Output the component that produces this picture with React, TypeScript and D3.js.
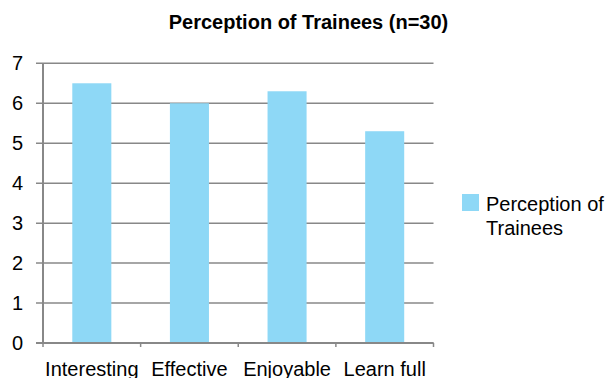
import React from 'react';
import * as d3 from 'd3';

const categories = ['Interesting', 'Effective', 'Enjoyable', 'Learn full'];
const values = [6.5, 6.0, 6.3, 5.3];
const yTicks = [0, 1, 2, 3, 4, 5, 6, 7];
const seriesName = ['Perception of', 'Trainees'];

const W = 611;
const H = 378;
const margin = { left: 43, right: 177.5, top: 63.3, bottom: 35 };
const font = 'Liberation Sans, Arial, sans-serif';
const barColor = '#8ed8f6';
const axisColor = '#888888';

export default function App() {
  const x = d3.scaleBand<string>()
    .domain(categories)
    .range([margin.left, W - margin.right])
    .paddingInner(0.6)
    .paddingOuter(0.3);

  const y = d3.scaleLinear()
    .domain([0, 7])
    .range([H - margin.bottom, margin.top]);

  const step = x.step();
  const edges = d3.range(categories.length + 1).map(i => margin.left + i * step);

  return (
    <svg width={W} height={H} style={{ position: 'absolute', left: 0, top: 0 }}>
      <rect width={W} height={H} fill="#fff" />
      <text x={308.5} y={29} textAnchor="middle" fontFamily={font} fontWeight="bold" fontSize={20}>
        Perception of Trainees (n=30)
      </text>
      {yTicks.map(t => (
        <g key={t}>
          <line x1={margin.left - 7} x2={W - margin.right} y1={y(t)} y2={y(t)} stroke={axisColor} strokeWidth={1.5} />
          <text x={23} y={y(t) + 7} textAnchor="end" fontFamily={font} fontSize={20}>{t}</text>
        </g>
      ))}
      <line x1={margin.left} x2={margin.left} y1={y(7)} y2={y(0)} stroke={axisColor} strokeWidth={2} />
      {edges.map((e, i) => (
        <line key={i} x1={e} x2={e} y1={y(0)} y2={y(0) + 4} stroke={axisColor} strokeWidth={1.5} />
      ))}
      {categories.map((c, i) => (
        <rect key={c} x={x(c)} width={x.bandwidth()} y={y(values[i])} height={y(0) - y(values[i])} fill={barColor} />
      ))}
      <line x1={margin.left - 7} x2={W - margin.right} y1={y(0)} y2={y(0)} stroke={axisColor} strokeWidth={2} />
      {categories.map(c => (
        <text key={c} x={(x(c) as number) + x.bandwidth() / 2} y={376} textAnchor="middle" fontFamily={font} fontSize={20}>{c}</text>
      ))}
      <rect x={462} y={194} width={17} height={17} fill={barColor} />
      {seriesName.map((s, i) => (
        <text key={s} x={486} y={211 + i * 24.3} fontFamily={font} fontSize={20}>{s}</text>
      ))}
    </svg>
  );
}
